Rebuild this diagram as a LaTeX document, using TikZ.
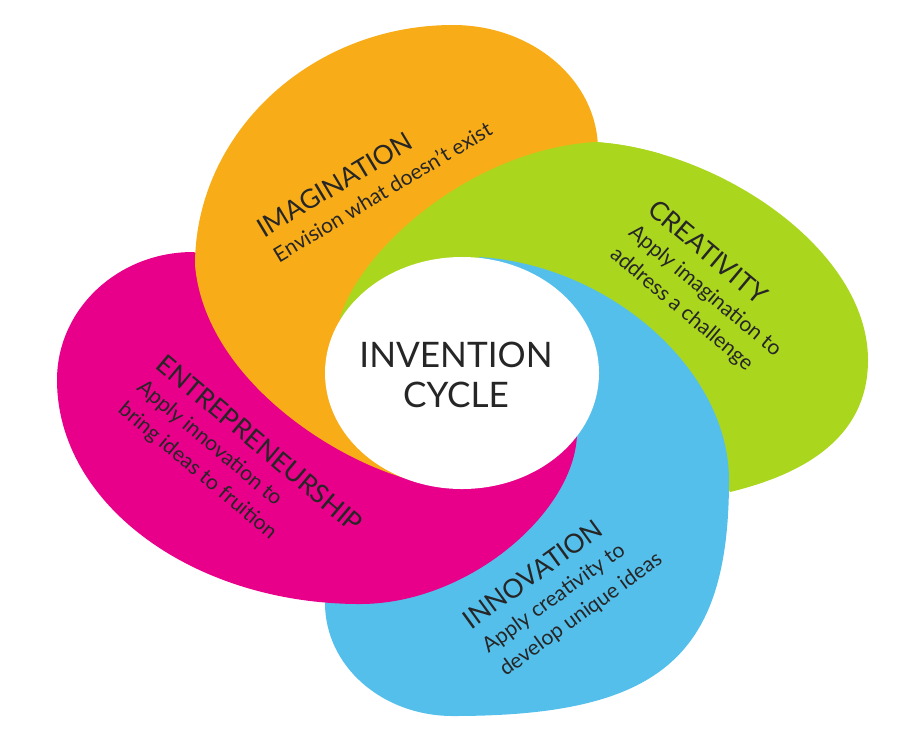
\documentclass[tikz,border=0pt]{standalone}
\usepackage{fontspec}
\setmainfont{Lato}

\definecolor{imagorange}{HTML}{F8AD18}
\definecolor{creagreen}{HTML}{ABD61E}
\definecolor{innoblue}{HTML}{55BFEC}
\definecolor{entrpink}{HTML}{E8008A}

\newcommand{\ttl}[1]{{\fontsize{15}{16}\selectfont #1}}
\newcommand{\greenoutline}{(340,318) .. controls (360,250) and (470,150) .. (595,142)
    .. controls (720,150) and (868,250) .. (868,360)
    .. controls (868,440) and (800,475) .. (730,492)
    .. controls (700,440) and (600,320) .. (500,290) -- cycle}

\begin{document}
\begin{tikzpicture}[x=0.02cm, y=-0.02cm, petaltext/.style={align=left, inner sep=0pt, text=black!85, font=\fontsize{12}{16.5}\selectfont}]
    \useasboundingbox (0,0) rectangle (905,745);

    % petals, green at the bottom
    \fill[creagreen] \greenoutline;
    \fill[innoblue] (479,257) .. controls (610,265) and (729,370) .. (729,480)
        .. controls (729,657) and (660,716) .. (453,716)
        .. controls (382,716) and (325,666) .. (325,603)
        .. controls (340,585) and (450,540) .. (530,470) -- (560,380) -- (500,300) -- cycle;
    \fill[entrpink] (193,252) .. controls (118,252) and (57,309) .. (57,380)
        .. controls (57,504) and (193,604) .. (360,604)
        .. controls (470,604) and (577,510) .. (577,432)
        -- (540,390) -- (400,380) -- (300,320) -- (230,262) -- cycle;
    \fill[imagorange] (420,482) .. controls (340,465) and (205,380) .. (195,265)
        .. controls (195,133) and (311,25) .. (453,25)
        .. controls (533,25) and (598,81) .. (598,150)
        .. controls (598,200) and (480,220) .. (440,290) -- cycle;
    % green again over the orange
    \begin{scope}
        \clip (300,0) -- (330,335) -- (480,255) -- (660,180) -- (660,0) -- cycle;
        \fill[creagreen] \greenoutline;
    \end{scope}

    \fill[white] (462,373) ellipse [x radius=137, y radius=116];

    \node[text=black!85, align=center, font=\fontsize{20}{23}\selectfont] (cycle) at (456,375) {INVENTION\\CYCLE};

    \node[petaltext, rotate=31] (imag) at (374,178) {\ttl{IMAGINATION}\\Envision what doesn't exist};
    \node[petaltext, rotate=-40] (crea) at (706,290) {\ttl{CREATIVITY}\\Apply imagination to\\address a challenge};
    \node[petaltext, rotate=-40] (entr) at (240,467) {\ttl{ENTREPRENEURSHIP}\\Apply innovation to\\bring ideas to fruition};
    \node[petaltext, rotate=36] (inno) at (563,590) {\ttl{INNOVATION}\\Apply creativity to\\develop unique ideas};
\end{tikzpicture}
\end{document}
